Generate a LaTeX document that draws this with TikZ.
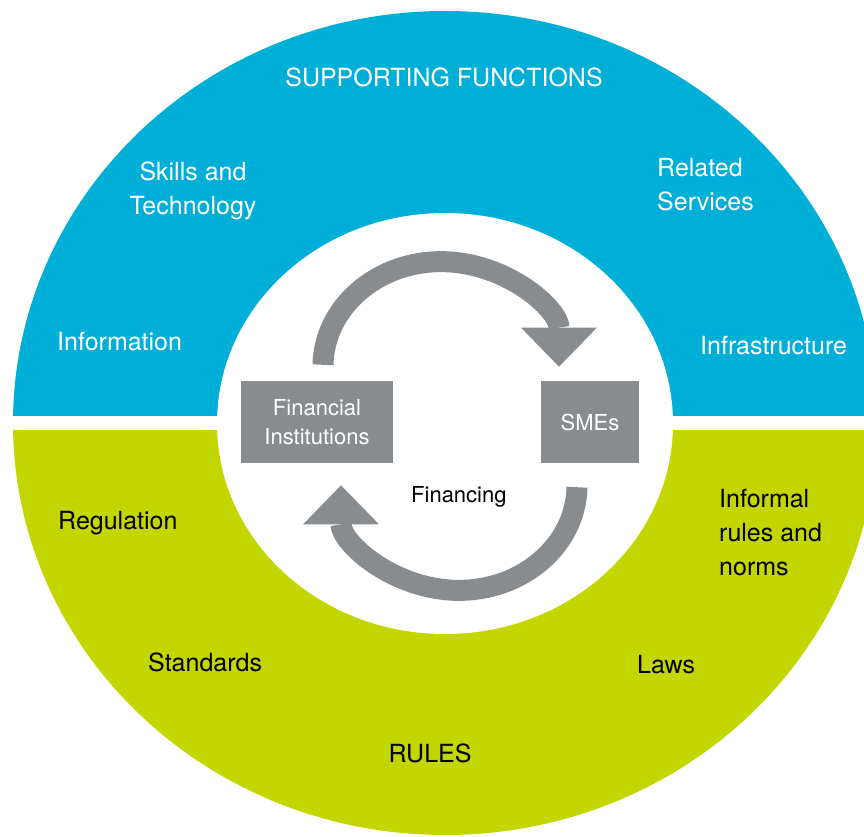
\documentclass[tikz,border=0pt]{standalone}
\usepackage{fontspec}
\setmainfont{TeX Gyre Heros}
\usetikzlibrary{arrows.meta}
\definecolor{supportblue}{RGB}{0,175,215}
\definecolor{rulegreen}{RGB}{196,214,0}
\definecolor{loopgray}{RGB}{137,140,142}

\begin{document}
\begin{tikzpicture}[x=1pt,y=-1pt,
    outer/.style={inner sep=0pt,font=\fontsize{25}{34}\selectfont},
    panel/.style={rectangle,fill=loopgray,text=white,minimum height=82pt,align=center,font=\fontsize{22}{29}\selectfont},
    turn/.style={draw=loopgray,line width=21pt,-{Triangle[width=76pt,length=39pt,line width=0pt]}}]
  \useasboundingbox (0,0) rectangle (864,837);
  % the two halves of the ring
  \begin{scope}
    \clip (0,0) rectangle (864,415);
    \fill[supportblue] (445,423) ellipse [x radius=432,y radius=412];
  \end{scope}
  \begin{scope}
    \clip (0,430) rectangle (864,837);
    \fill[rulegreen] (445,423) ellipse [x radius=432,y radius=412];
  \end{scope}
  \fill[white] (445,423.5) ellipse [x radius=228,y radius=210.5];
  % supporting functions
  \node[outer,text=white,anchor=base] (support) at (444,87) {SUPPORTING FUNCTIONS};
  \node[outer,text=white,align=center] (skills) at (193,191) {Skills and\\Technology};
  \node[outer,text=white,align=left,anchor=west] (related) at (657,185) {Related\\Services};
  \node[outer,text=white,anchor=base west] (information) at (57,350) {Information};
  \node[outer,text=white,anchor=base west] (infrastructure) at (700,354) {Infrastructure};
  % rules
  \node[outer,anchor=base west] (regulation) at (58,529) {Regulation};
  \node[outer,align=left,anchor=west] (informal) at (719,533) {Informal\\rules and\\norms};
  \node[outer,anchor=base west] (standards) at (148,671) {Standards};
  \node[outer,anchor=base west] (laws) at (637,673) {Laws};
  \node[outer,anchor=base] (rules) at (430,762) {RULES};
  % financing loop
  \node[panel,minimum width=152pt] (fin) at (317,422) {Financial\\Institutions};
  \node[panel,minimum width=98pt] (smes) at (590,422) {SMEs};
  \node[inner sep=0pt,anchor=base west,font=\fontsize{22}{29}\selectfont] (financing) at (411,502) {Financing};
  \draw[turn] ([xshift=6pt,yshift=16pt]fin.north) arc[start angle=181,end angle=360,x radius=118,y radius=105];
  \draw[turn] ([xshift=-13pt,yshift=-24pt]smes.south) arc[start angle=1,end angle=180,x radius=118,y radius=105];
\end{tikzpicture}
\end{document}
